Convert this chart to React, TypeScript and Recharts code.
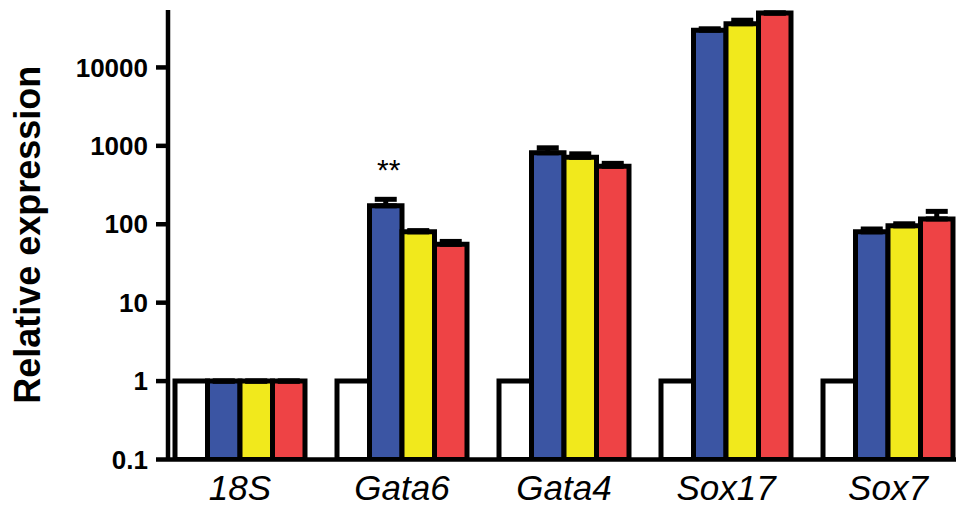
import React from 'react';
import { BarChart, Bar, XAxis, YAxis, ErrorBar, LabelList } from 'recharts';

// Genes on the x axis
const genes = ['18S', 'Gata6', 'Gata4', 'Sox17', 'Sox7'];

// Mean relative expression per condition
const control = [1, 1, 1, 1, 1];
const blueVals = [1, 172, 815, 29800, 80];
const yellowVals = [1, 80, 713, 36100, 95.4];
const redVals = [1, 55.4, 548, 49400, 117];

// Upper SEM per condition
const blueErr = [0, 36, 129, 1300, 7];
const yellowErr = [0, 3, 78, 3900, 6];
const redErr = [0, 5, 50, 0, 29];

// Significance marks over the blue bars
const blueSig = ['', '**', '', '', ''];

const yTicks = [0.1, 1, 10, 100, 1000, 10000];

const data = genes.map((gene, i) => ({
  gene,
  control: control[i],
  blue: blueVals[i],
  yellow: yellowVals[i],
  red: redVals[i],
  blueErr: [0, blueErr[i]],
  yellowErr: [0, yellowErr[i]],
  redErr: [0, redErr[i]],
  sig: blueSig[i],
}));

const FONT = '"Liberation Sans", Arial, Helvetica, sans-serif';
const STROKE = 5;

const formatTick = (v: number) => (v < 1 ? String(v) : String(Math.round(v)));

const SigLabel = (props: any) => {
  const { x, y, width, value } = props;
  if (!value) return null;
  return (
    <text
      x={x + width / 2 + 3}
      y={y - 26}
      textAnchor="middle"
      fontFamily={FONT}
      fontSize={30}
      fill="#000"
    >
      {value}
    </text>
  );
};

const YTitle = (props: any) => {
  const { viewBox } = props;
  const cx = viewBox.x + 27;
  const cy = viewBox.y + viewBox.height / 2;
  return (
    <text
      x={cx}
      y={cy}
      transform={`rotate(-90, ${cx}, ${cy})`}
      textAnchor="middle"
      dominantBaseline="central"
      fontFamily={FONT}
      fontWeight="bold"
      fontSize={36}
      fill="#000"
    >
      Relative expression
    </text>
  );
};

export default function App() {
  return (
    <div style={{ position: 'absolute', left: 0, top: 0, width: 956, height: 508, background: '#fff' }}>
      <BarChart
        width={956}
        height={508}
        data={data}
        margin={{ top: 10, right: 0, bottom: 0, left: 0 }}
        barGap={0}
        barSize={32.5}
      >
        <XAxis
          dataKey="gene"
          height={48.5}
          padding={{ left: -9, right: -13 }}
          axisLine={{ stroke: '#000', strokeWidth: 4.5 }}
          tickLine={false}
          tickSize={0}
          tickMargin={16}
          tick={{ fontFamily: FONT, fontStyle: 'italic', fontSize: 35, fill: '#000' }}
          interval={0}
        />
        <YAxis
          scale="log"
          type="number"
          domain={[0.1, 54000]}
          ticks={yTicks}
          allowDataOverflow
          width={168}
          axisLine={{ stroke: '#000', strokeWidth: 4.5 }}
          tickLine={{ stroke: '#000', strokeWidth: 4.5 }}
          tickSize={12}
          tickMargin={8}
          tickFormatter={formatTick}
          tick={{ fontFamily: FONT, fontWeight: 'bold', fontSize: 26, fill: '#000' }}
          label={<YTitle />}
        />
        <Bar dataKey="control" fill="#ffffff" stroke="#000" strokeWidth={STROKE} isAnimationActive={false} />
        <Bar dataKey="blue" fill="#3b55a3" stroke="#000" strokeWidth={STROKE} isAnimationActive={false}>
          <ErrorBar dataKey="blueErr" direction="y" width={11} stroke="#000" strokeWidth={STROKE} />
          <LabelList dataKey="sig" content={<SigLabel />} />
        </Bar>
        <Bar dataKey="yellow" fill="#f1e91c" stroke="#000" strokeWidth={STROKE} isAnimationActive={false}>
          <ErrorBar dataKey="yellowErr" direction="y" width={11} stroke="#000" strokeWidth={STROKE} />
        </Bar>
        <Bar dataKey="red" fill="#ee4345" stroke="#000" strokeWidth={STROKE} isAnimationActive={false}>
          <ErrorBar dataKey="redErr" direction="y" width={11} stroke="#000" strokeWidth={STROKE} />
        </Bar>
      </BarChart>
    </div>
  );
}
